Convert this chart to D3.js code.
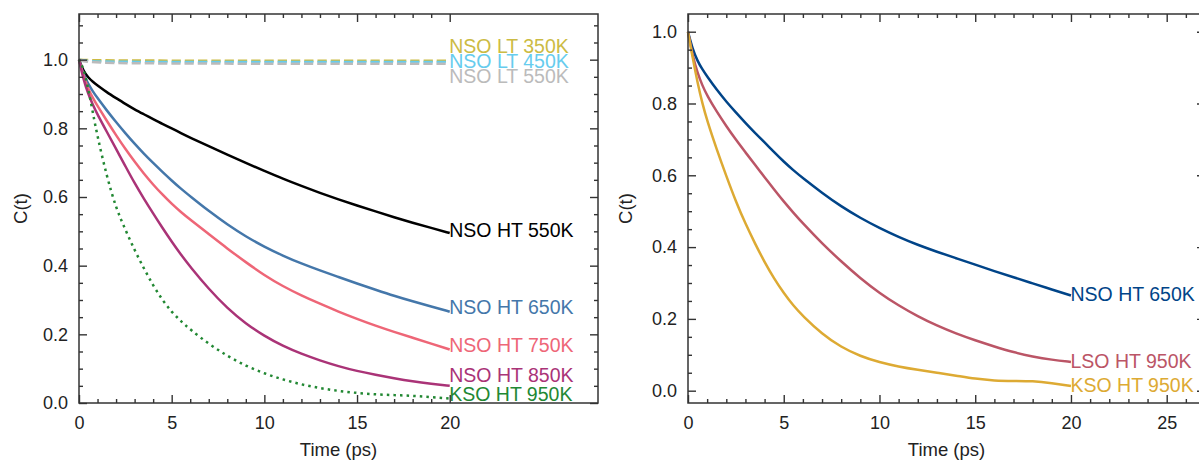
<!DOCTYPE html>
<html>

<head>
    <meta charset="UTF-8">
    <style>
        body { margin: 0; background: #fff; }
        svg { display: block; font-family: "Liberation Sans", Arial, sans-serif; }
        .tick text { font-size: 18px; fill: #222; font-family: "Liberation Sans", Arial, sans-serif; }
        .axisTitle { font-size: 18.5px; fill: #222; }
        .seriesLabel { font-size: 19.5px; }
    </style>
    <title>C(t) decay</title>
</head>

<body>
    <svg></svg>
    <script src="https://d3js.org/d3.v7.min.js"></script>

    <script>
        let width = 1199, height = 462;

        // time grid (ps) shared by the HT curves
        const times = [0, 0.25, 0.5, 0.75, 1, 1.5, 2, 2.5, 3, 3.5, 4, 4.5, 5, 5.5, 6,
            7, 8, 9, 10, 11, 12, 13, 14, 15, 16, 17, 18, 19, 20];
        // the LT curves are flat, a few points are enough
        const timesFlat = [0, 0.5, 5, 10, 15, 20];

        // left panel values
        const nsoLt350 = [1.0, 0.998, 0.997, 0.997, 0.997, 0.997];
        const nsoLt450 = [1.0, 0.994, 0.993, 0.993, 0.993, 0.993];
        const nsoLt550 = [1.0, 0.990, 0.989, 0.988, 0.988, 0.988];
        const nsoHt550 = [1, .965, .948, .935, .925, .905, .888, .871, .855, .841, .827, .813, .80, .786, .773,
            .748, .723, .699, .676, .653, .632, .612, .593, .575, .558, .541, .525, .51, .495];
        const nsoHt650 = [1, .955, .93, .907, .888, .852, .818, .786, .755, .726, .699, .673, .648, .624, .602,
            .559, .520, .485, .455, .429, .406, .386, .367, .348, .33, .312, .296, .281, .266];
        const nsoHt750 = [1, .95, .915, .888, .865, .822, .78, .74, .703, .668, .636, .607, .58, .556, .534,
            .492, .45, .41, .372, .34, .313, .289, .266, .245, .225, .207, .19, .173, .156];
        const nsoHt850 = [1, .94, .9, .868, .84, .79, .74, .69, .64, .595, .552, .51, .47, .432, .397,
            .332, .276, .231, .195, .166, .143, .124, .107, .093, .082, .072, .063, .056, .05];
        const ksoHt950 = [1, .975, .915, .845, .775, .66, .567, .505, .445, .392, .342, .300, .265, .238, .214,
            .172, .137, .108, .086, .068, .054, .043, .035, .029, .025, .023, .021, .017, .013];

        // right panel values
        const nsoHt650b = [1, .95, .918, .895, .875, .838, .805, .775, .746, .718, .692, .664, .638, .614, .592,
            .551, .513, .481, .453, .428, .406, .387, .369, .351, .333, .316, .299, .282, .265];
        const lsoHt950 = [1, .93, .885, .85, .822, .777, .737, .699, .664, .629, .595, .56, .527, .496, .466,
            .41, .36, .313, .272, .237, .207, .181, .159, .14, .123, .107, .095, .086, .08];
        const ksoHt950b = [1, .925, .858, .80, .752, .672, .598, .527, .465, .41, .358, .312, .272, .237, .208,
            .158, .121, .096, .079, .067, .058, .05, .042, .033, .028, .027, .027, .021, .013];

        const leftNames = ["NSO LT 350K", "NSO LT 450K", "NSO LT 550K", "NSO HT 550K",
            "NSO HT 650K", "NSO HT 750K", "NSO HT 850K", "KSO HT 950K"];
        const rightNames = ["NSO HT 650K", "LSO HT 950K", "KSO HT 950K"];

        const xMajorLeft = [0, 5, 10, 15, 20];
        const xMajorRight = [0, 5, 10, 15, 20, 25];
        const yMajor = [0, 0.2, 0.4, 0.6, 0.8, 1.0];

        let svg = d3.select("svg")
            .attr("width", width)
            .attr("height", height);

        const dashed = "9.25 4", dotted = "2.5 4.1";

        let leftPanel = {
            x: [79, 598], xDomain: [0, 28],
            y: [403, 14], yDomain: [0, 1.133],
            xMajor: xMajorLeft, xMinorMax: 20,
            titleX: 26.8,
            series: [
                { name: leftNames[0], t: timesFlat, v: nsoLt350, color: "#CCBB44", dash: dashed, labelAt: 1.040 },
                { name: leftNames[1], t: timesFlat, v: nsoLt450, color: "#66CCEE", dash: dashed, labelAt: 0.996 },
                { name: leftNames[2], t: timesFlat, v: nsoLt550, color: "#BBBBBB", dash: dashed, labelAt: 0.952 },
                { name: leftNames[3], t: times, v: nsoHt550, color: "#000000", labelAt: 0.504 },
                { name: leftNames[4], t: times, v: nsoHt650, color: "#4477AA", labelAt: 0.280 },
                { name: leftNames[5], t: times, v: nsoHt750, color: "#EE6677", labelAt: 0.169 },
                { name: leftNames[6], t: times, v: nsoHt850, color: "#AA3377", labelAt: 0.082 },
                { name: leftNames[7], t: times, v: ksoHt950, color: "#228833", dash: dotted, labelAt: 0.027 }
            ]
        };

        let rightPanel = {
            x: [688, 1205], xDomain: [0, 27],
            y: [403, 14], yDomain: [-0.0343, 1.0493],
            xMajor: xMajorRight, xMinorMax: 27,
            titleX: 632,
            series: [
                { name: rightNames[0], t: times, v: nsoHt650b, color: "#004488", labelAt: 0.269 },
                { name: rightNames[1], t: times, v: lsoHt950, color: "#BB5566", labelAt: 0.083 },
                { name: rightNames[2], t: times, v: ksoHt950b, color: "#DDAA33", labelAt: 0.014 }
            ]
        };

        function drawPanel(p) {
            let xScale = d3.scaleLinear().domain(p.xDomain).range(p.x);
            let yScale = d3.scaleLinear().domain(p.yDomain).range(p.y);

            let g = svg.append("g");

            // minor tick values
            let xMinor = d3.range(1, p.xMinorMax + 1).filter(d => d % 5 != 0 && d <= p.xDomain[1]);
            let yMinor = d3.range(1, 23).map(d => d * 0.05)
                .filter(d => d >= p.yDomain[0] && d <= p.yDomain[1] && Math.round(d * 100) % 20 != 0);

            // lines
            let line = d3.line()
                .x(d => xScale(d[0]))
                .y(d => yScale(d[1]))
                .curve(d3.curveBasis);

            p.series.forEach(s => {
                g.append("path")
                    .datum(s.t.map((t, i) => [t, s.v[i]]))
                    .attr("d", line)
                    .attr("fill", "none")
                    .attr("stroke", s.color)
                    .attr("stroke-width", 2.5)
                    .attr("stroke-dasharray", s.dash || null);
            });

            p.series.forEach(s => {
                g.append("text")
                    .attr("class", "seriesLabel")
                    .attr("x", xScale(s.t[s.t.length - 1]) - 0.5)
                    .attr("y", yScale(s.labelAt))
                    .attr("dy", "0.35em")
                    .attr("fill", s.color)
                    .text(s.name);
            });

            // axes, ticks pointing inward on all four sides
            function addAxis(axis, tx, ty, labels) {
                let a = g.append("g")
                    .attr("transform", "translate(" + tx + "," + ty + ")")
                    .call(axis);
                a.select(".domain").remove();
                a.selectAll(".tick line").attr("stroke", "#333").attr("stroke-width", 1.4);
                if (!labels) a.selectAll(".tick text").remove();
                return a;
            }

            let bottom = p.y[0], top = p.y[1], left = p.x[0], right = p.x[1];

            addAxis(d3.axisBottom(xScale).tickValues(p.xMajor).tickSize(-8).tickPadding(13)
                .tickFormat(d3.format("d")), 0, bottom, true);
            addAxis(d3.axisBottom(xScale).tickValues(xMinor).tickSize(-4), 0, bottom, false);
            addAxis(d3.axisTop(xScale).tickValues(p.xMajor).tickSize(-8), 0, top, false);
            addAxis(d3.axisTop(xScale).tickValues(xMinor).tickSize(-4), 0, top, false);

            addAxis(d3.axisLeft(yScale).tickValues(yMajor).tickSize(-8).tickPadding(11)
                .tickFormat(d3.format(".1f")), left, 0, true);
            addAxis(d3.axisLeft(yScale).tickValues(yMinor).tickSize(-4), left, 0, false);
            addAxis(d3.axisRight(yScale).tickValues(yMajor).tickSize(-8), right, 0, false);
            addAxis(d3.axisRight(yScale).tickValues(yMinor).tickSize(-4), right, 0, false);

            // frame
            g.append("rect")
                .attr("x", left).attr("y", top)
                .attr("width", right - left).attr("height", bottom - top)
                .attr("fill", "none")
                .attr("stroke", "#333")
                .attr("stroke-width", 1.5);

            // axis titles
            g.append("text")
                .attr("class", "axisTitle")
                .attr("x", (left + right) / 2)
                .attr("y", 456)
                .attr("text-anchor", "middle")
                .text("Time (ps)");

            g.append("text")
                .attr("class", "axisTitle")
                .attr("transform", "translate(" + p.titleX + "," + ((top + bottom) / 2) + ") rotate(-90)")
                .attr("text-anchor", "middle")
                .text("C(t)");
        }

        drawPanel(leftPanel);
        drawPanel(rightPanel);
    </script>
</body>

</html>
